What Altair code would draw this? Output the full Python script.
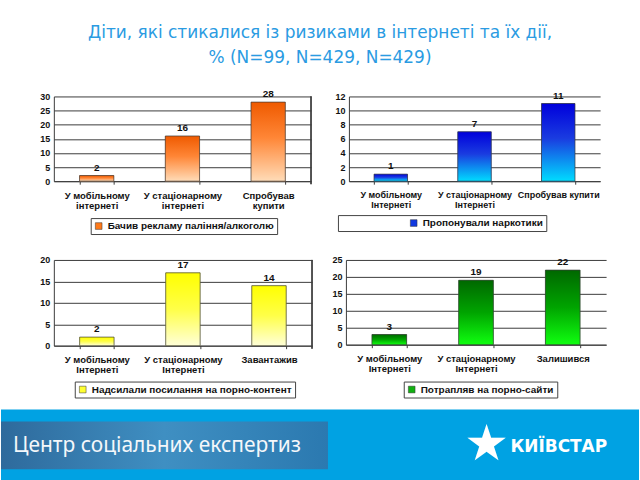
import altair as alt
import pandas as pd

TITLE = ["Діти, які стикалися із ризиками в інтернеті та їх дії,", "% (N=99, N=429, N=429)"]

cats1 = ["У мобільному|інтернеті", "У стаціонарному|інтернеті", "Спробував|купити"]
vals1 = [2, 16, 28]
series1 = "Бачив рекламу паління/алкоголю"

cats2 = ["У мобільному|Інтернеті", "У стаціонарному|Інтернеті", "Спробував купити"]
vals2 = [1, 7, 11]
series2 = "Пропонували наркотики"

cats3 = ["У мобільному|Інтернеті", "У стаціонарному|Інтернеті", "Завантажив"]
vals3 = [2, 17, 14]
series3 = "Надсилали посилання на порно-контент"

cats4 = ["У мобільному|Інтернеті", "У стаціонарному|Інтернеті", "Залишився"]
vals4 = [3, 19, 22]
series4 = "Потрапляв на порно-сайти"

FOOTER_LEFT = "Центр соціальних експертиз"
FOOTER_RIGHT = "КИЇВСТАР"

FONT = "Liberation Sans"
GRID = "#3c3c3c"
LEFT = 53  # plot-area offset of the left column from the page edge
NBSP = "\u00a0"


def grad(stops):
    return alt.Gradient(
        gradient="linear",
        stops=[alt.GradientStop(color=c, offset=o) for c, o in stops],
        x1=0, x2=0, y1=0, y2=1,
    )


def panel(cats, vals, series, stops, sym, ymax, step, w, h, ext, lx, ly,
          sym_offset=0, pad_label="", right_border=False, xfs=9.5):
    df = pd.DataFrame({"cat": cats, "val": vals, "series": [series] * len(cats)})
    x = alt.X(
        "cat:N", sort=cats,
        scale=alt.Scale(paddingInner=0.6, paddingOuter=0.3),
        axis=alt.Axis(
            title=None, labelAngle=0, labelExpr="split(datum.label, '|')",
            tickBand="extent", ticks=True, tickSize=3, tickColor=GRID,
            domainColor=GRID, labelFont=FONT, labelFontSize=xfs,
            labelFontWeight="bold", labelColor="#111", labelPadding=6,
            labelLineHeight=10, grid=False,
        ),
    )
    y = alt.Y(
        "val:Q", scale=alt.Scale(domain=[0, ymax], nice=False),
        axis=alt.Axis(
            title=None, values=list(range(0, ymax + 1, step)), grid=True,
            gridColor=GRID, gridOpacity=1, ticks=False, domainColor=GRID,
            labelFont=FONT, labelFontSize=9, labelFontWeight="bold",
            labelColor="#111", labelPadding=4, minExtent=ext, maxExtent=ext,
        ),
    )
    legend = alt.Legend(
        title=None, orient="none", legendX=lx, legendY=ly, direction="horizontal",
        strokeColor="#444", padding=3, labelFont=FONT, labelFontSize=10,
        labelFontWeight="bold", labelColor="#111", symbolType="square",
        symbolSize=45, symbolStrokeColor="#333", symbolStrokeWidth=0.5,
        symbolOffset=sym_offset, labelLimit=500,
        labelExpr="datum.label + '" + pad_label + "'",
    )
    base = alt.Chart(df).mark_bar().encode(
        x=x, y=y,
        color=alt.Color("series:N", scale=alt.Scale(range=[sym]), legend=legend),
    )
    bars = alt.Chart(df).mark_bar(
        color=grad(stops), stroke="#3a3a3a", strokeWidth=0.7
    ).encode(x=x, y=y)
    labels = alt.Chart(df).mark_text(
        dy=-3, baseline="bottom", font=FONT, fontSize=10, fontWeight="bold",
        color="#111",
    ).encode(x=x, y=y, text="val:Q")
    layers = [base, bars, labels]
    if right_border:
        layers.append(
            alt.Chart(df).mark_rule(color=GRID, strokeWidth=1).encode(
                x=alt.value(w), y=alt.value(0), y2=alt.value(h + 3))
        )
    return alt.layer(*layers).properties(width=w, height=h)


p1 = panel(cats1, vals1, series1,
           [("#ef5a00", 0), ("#ff8636", 0.45), ("#ffdcb8", 1)], "#ff7a1a",
           30, 5, 258, 85, 20, 37, 122, right_border=True)
p2 = panel(cats2, vals2, series2,
           [("#0000dc", 0), ("#1a3ce0", 0.45), ("#00dcff", 1)], "#1038e0",
           12, 2, 252, 85, 18, -11, 119, sym_offset=68,
           pad_label=NBSP * 22, xfs=9)
p3 = panel(cats3, vals3, series3,
           [("#ffff00", 0), ("#ffff48", 0.5), ("#ffffd8", 1)], "#ffff30",
           20, 5, 259, 86, 20, 21, 122, right_border=True)
p4 = panel(cats4, vals4, series4,
           [("#006800", 0), ("#00a400", 0.5), ("#10ff10", 1)], "#10b010",
           25, 5, 261, 85, 18, 58, 122)

row1 = alt.hconcat(p1, p2, spacing=18).resolve_scale(color="independent")
row2 = alt.hconcat(p3, p4, spacing=14).resolve_scale(color="independent")

fdf = pd.DataFrame({"k": [0]})
band = alt.Chart(fdf).mark_rect(color="#00a2e3").encode(
    x=alt.value(-LEFT), x2=alt.value(640 - LEFT), y=alt.value(0), y2=alt.value(71))
box = alt.Chart(fdf).mark_rect(
    color=alt.Gradient(
        gradient="linear",
        stops=[alt.GradientStop(color="#2e6a9c", offset=0),
               alt.GradientStop(color="#3f8fc2", offset=0.5),
               alt.GradientStop(color="#2b79b0", offset=1)],
        x1=0, x2=1, y1=0, y2=0)
).encode(x=alt.value(-LEFT), x2=alt.value(328 - LEFT), y=alt.value(12), y2=alt.value(60))
ftext = alt.Chart(fdf).mark_text(
    align="left", baseline="middle", font="Noto Sans", fontSize=21, color="#f4f7fa"
).encode(x=alt.value(12 - LEFT), y=alt.value(37), text=alt.value(FOOTER_LEFT))
star = alt.Chart(fdf).mark_text(
    align="center", baseline="middle", font="DejaVu Sans", fontSize=50, color="white"
).encode(x=alt.value(487 - LEFT), y=alt.value(36), text=alt.value("★"))
ktext = alt.Chart(fdf).mark_text(
    align="left", baseline="middle", font="DejaVu Sans", fontSize=17,
    fontWeight="bold", color="white"
).encode(x=alt.value(511 - LEFT), y=alt.value(38), text=alt.value(FOOTER_RIGHT))
footer = alt.layer(band, box, ftext, star, ktext).properties(width=640 - LEFT, height=71)

body = alt.vconcat(row1, row2, spacing=20).resolve_scale(color="independent")

chart = alt.vconcat(body, footer, spacing=10).resolve_scale(
    color="independent"
).properties(
    title=alt.TitleParams(
        text=TITLE, fontSize=17, font="DejaVu Sans", fontWeight="normal",
        color="#2a9be2", lineHeight=25, anchor="middle", offset=22, frame="bounds",
    ),
    padding={"left": 0, "right": 0, "top": 23, "bottom": 0},
).configure_view(stroke="transparent")

chart.save("out.html", embed_options={"renderer": "svg", "actions": False})
